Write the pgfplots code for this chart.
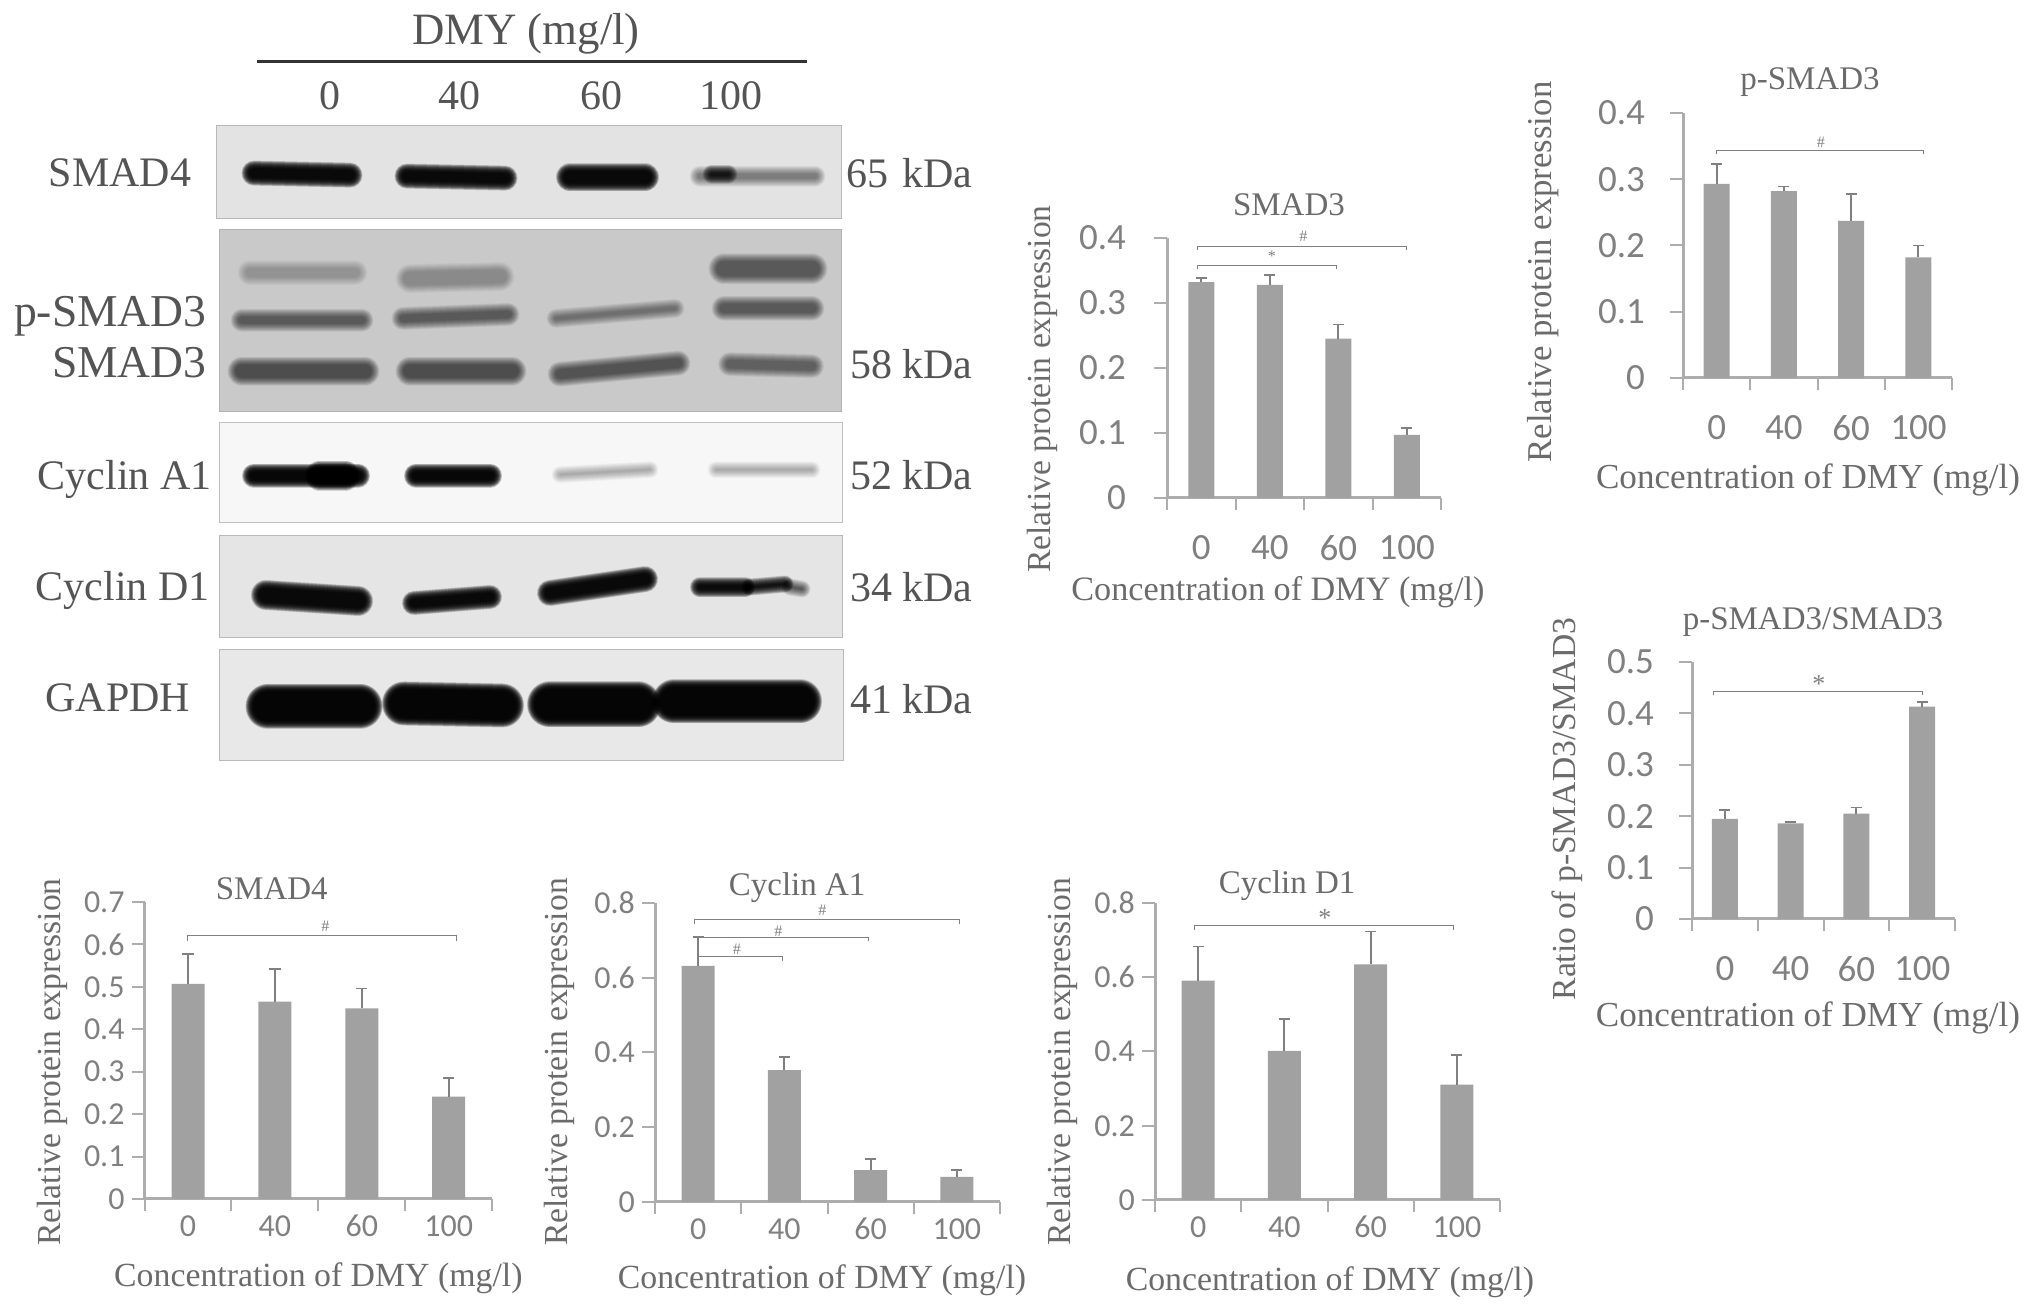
\documentclass[border=0pt]{standalone}
\usepackage{fontspec}
\setmainfont{Liberation Serif}
\newfontfamily\tickfont{Carlito}
\usepackage{pgfplots}
\pgfplotsset{compat=1.18}

\definecolor{axisg}{gray}{0.68}
\definecolor{barg}{gray}{0.63}
\definecolor{errg}{gray}{0.5}
\definecolor{txtg}{gray}{0.42}
\definecolor{blotg}{gray}{0.33}
\newcommand\fz[1]{\fontsize{#1}{#1}\selectfont}

% soft band on a blot: path, thickness in px, opacity per layer
\newcommand\band[3]{%
  \foreach \k in {11,10,...,-5}{%
    \draw[line width=(#2+\k)*0.5pt, line cap=round, line join=round, black, opacity=#3] #1;
  }%
}

\pgfplotsset{
  wb/.style={
    scale only axis, clip=false, ybar,
    axis lines=left,
    axis line style={-, draw=axisg, line width=1.5pt},
    xmin=-0.5, xmax=3.5, ymin=0,
    xtick={0,1,2,3}, xticklabels={0,40,60,100},
    minor xtick={-0.5,0.5,1.5,2.5,3.5},
    tick align=outside,
    major tick length=6.5pt, minor tick length=6pt,
    major x tick style={draw=none},
    minor x tick style={draw=axisg, line width=1pt},
    major y tick style={draw=axisg, line width=1pt},
    /pgf/number format/assume math mode=true,
    /pgf/number format/fixed,
    /pgf/number format/precision=1,
    every axis title shift=0pt,
    title style={font=\fz{16.5}, text=txtg, anchor=center, inner sep=0pt},
    xlabel style={font=\fz{16.9}, text=txtg, anchor=center, inner sep=0pt},
    ylabel style={font=\fz{16.8}, text=txtg, anchor=center, inner sep=0pt},
    xlabel={Concentration of DMY (mg/l)},
    ylabel={Relative protein expression},
  },
  small/.style={
    wb,
    tick label style={font=\tickfont\fz{16}, text=errg},
    xticklabel style={anchor=center, yshift=-7pt},
  },
  large/.style={
    wb,
    tick label style={font=\tickfont\fz{18.5}, text=errg},
    xticklabel style={anchor=center, yshift=-18.5pt},
    yticklabel style={xshift=-9pt},
  },
  bars/.style={
    fill=barg, draw=none, bar width=#1,
    error bars/.cd, y dir=plus, y explicit,
    error bar style={draw=errg, line width=0.9pt},
    error mark options={draw=errg, line width=0.9pt, mark size=2.8pt, rotate=90},
  },
}
% significance bracket in axis units: x1, x2, y, drop, symbol x, symbol y, symbol
\newcommand\bracket[7]{%
  \draw[errg, line width=0.5pt] (axis cs:#1,#3-#4) -- (axis cs:#1,#3) -- (axis cs:#2,#3) -- (axis cs:#2,#3-#4);
  \node[text=errg, font=\fz{8}, inner sep=0pt] at (axis cs:#5,#6) {#7};
}
\newcommand\bigstar[3]{\node[text=errg, font=\fz{13}, inner sep=0pt] at (axis cs:#1,#2) {#3};}

\begin{document}
\begin{tikzpicture}[x=0.5pt,y=0.5pt]
\path[use as bounding box] (0,0) rectangle (2031,1312);

% blot panels
\begin{scope}[yscale=-0.995,yshift=-659.3pt]
  \fill[gray!22!white,draw=gray!55] (216,126) rectangle (841,220);
  \fill[gray!42!white,draw=gray!60] (219,231) rectangle (841,413);
  \fill[gray!6!white,draw=gray!50] (219,425) rectangle (842,525);
  \fill[gray!20!white,draw=gray!55] (219,538) rectangle (842,641);
  \fill[gray!18!white,draw=gray!55] (219,653) rectangle (843,764);

  % SMAD4
  \band{(254,174)--(350,176)}{14}{0.16}
  \band{(407,177)--(505,179)}{14}{0.16}
  \band{(570,178)--(645,178)}{17}{0.16}
  \band{(700,177)--(815,177)}{10}{0.03}
  \band{(712,175)--(728,175)}{8}{0.09}
  % p-SMAD3 / SMAD3
  \band{(250,274)--(355,274)}{14}{0.016}
  \band{(410,280)--(500,278)}{18}{0.02}
  \band{(724,270)--(812,270)}{20}{0.042}
  \band{(724,310)--(812,310)}{14}{0.042}
  \band{(242,322)--(362,322)}{12}{0.042}
  \band{(403,320)--(508,316)}{12}{0.042}
  \band{(556,320)--(675,310)}{8}{0.03}
  \band{(242,373)--(365,373)}{18}{0.05}
  \band{(410,373)--(512,373)}{18}{0.05}
  \band{(560,376)--(678,365)}{14}{0.046}
  \band{(730,366)--(812,368)}{13}{0.038}
  % Cyclin A1
  \band{(254,478)--(358,478)}{13}{0.17}
  \band{(320,478)--(345,478)}{19}{0.14}
  \band{(416,478)--(490,478)}{13}{0.17}
  \band{(560,477)--(650,472)}{6}{0.02}
  \band{(716,472)--(812,472)}{6}{0.02}
  % Cyclin D1
  \band{(266,598)--(358,604)}{19}{0.16}
  \band{(414,606)--(490,600)}{13}{0.16}
  \band{(550,596)--(645,582)}{15}{0.16}
  \band{(700,590)--(745,590)}{9}{0.15}
  \band{(750,590)--(785,587)}{6}{0.13}
  \band{(790,590)--(802,592)}{6}{0.05}
  % GAPDH
  \band{(268,710)--(360,710)}{34}{0.18}
  \band{(404,707)--(502,709)}{33}{0.18}
  \band{(550,708)--(638,708)}{35}{0.18}
  \band{(674,705)--(800,705)}{33}{0.18}
\end{scope}

% blot labels
\begin{scope}[yscale=-1,yshift=-656pt]
  \tikzset{bl/.style={text=blotg, font=\fz{21}, inner sep=0pt}}
  \node[bl,font=\fz{22.4}] at (526,34) {DMY (mg/l)};
  \draw[black!80, line width=1.5pt] (257,62) -- (807,62);
  \node[bl] at (330,96) {0};
  \node[bl] at (459,96) {40};
  \node[bl] at (601,96) {60};
  \node[bl] at (731,96) {100};
  \node[bl] at (120,173) {SMAD4};
  \node[bl,anchor=east,font=\fz{22.8}] at (207,316) {p-SMAD3};
  \node[bl,anchor=east,font=\fz{22.8}] at (207,363) {SMAD3};
  \node[bl,anchor=east] at (212,479) {Cyclin A1};
  \node[bl,anchor=east] at (210,590) {Cyclin D1};
  \node[bl] at (118,698) {GAPDH};
  \node[bl,anchor=east] at (973,173) {65\,\,kDa};
  \node[bl,anchor=east] at (973,364) {58 kDa};
  \node[bl,anchor=east] at (973,475) {52 kDa};
  \node[bl,anchor=east] at (973,587) {34 kDa};
  \node[bl,anchor=east] at (973,699) {41 kDa};
\end{scope}

% SMAD4
\begin{axis}[small, at={(72.3pt,56.5pt)}, width=173.75pt, height=148.5pt, ymax=0.7,
    ytick={0,0.1,0.2,0.3,0.4,0.5,0.6,0.7},
    title={SMAD4}, title style={at={(axis description cs:0.366,1.043)}},
    xlabel style={at={(axis description cs:0.5,-0.266)}},
    ylabel style={at={(axis description cs:-0.265,0.461)}}]
\addplot[bars=16.5pt] coordinates {
  (0,0.507) +- (0,0.070)
  (1,0.465) +- (0,0.078)
  (2,0.449) +- (0,0.047)
  (3,0.241) +- (0,0.044)
};
\bracket{-0.01}{3.09}{0.62}{0.012}{1.58}{0.643}{\#}
\end{axis}

% Cyclin A1
\begin{axis}[small, at={(327.5pt,55pt)}, width=172.5pt, height=149.5pt, ymax=0.8,
    ytick={0,0.2,0.4,0.6,0.8},
    title={Cyclin A1}, title style={at={(axis description cs:0.412,1.05)}},
    xlabel style={at={(axis description cs:0.484,-0.261)}},
    ylabel style={at={(axis description cs:-0.277,0.468)}}]
\addplot[bars=16.5pt] coordinates {
  (0,0.632) +- (0,0.077)
  (1,0.353) +- (0,0.034)
  (2,0.085) +- (0,0.031)
  (3,0.067) +- (0,0.018)
};
\bracket{-0.04}{3.03}{0.757}{0.012}{1.44}{0.781}{\#}
\bracket{-0.01}{1.97}{0.709}{0.012}{0.93}{0.725}{\#}
\bracket{0}{0.98}{0.657}{0.012}{0.45}{0.676}{\#}
\end{axis}

% Cyclin D1
\begin{axis}[small, at={(577.5pt,56pt)}, width=172.5pt, height=148.5pt, ymax=0.8,
    ytick={0,0.2,0.4,0.6,0.8},
    title={Cyclin D1}, title style={at={(axis description cs:0.383,1.058)}},
    xlabel style={at={(axis description cs:0.507,-0.276)}},
    ylabel style={at={(axis description cs:-0.267,0.465)}}]
\addplot[bars=16.5pt] coordinates {
  (0,0.591) +- (0,0.092)
  (1,0.402) +- (0,0.085)
  (2,0.635) +- (0,0.088)
  (3,0.311) +- (0,0.079)
};
\bracket{-0.04}{2.96}{0.74}{0.012}{1.47}{0.74}{}
\bigstar{1.47}{0.76}{*}
\end{axis}

% SMAD3
\begin{axis}[large, at={(583.5pt,407pt)}, width=137pt, height=130pt, ymax=0.4,
    ytick={0,0.1,0.2,0.3,0.4},
    yticklabel style={xshift=-1.5pt},
    title={SMAD3}, title style={at={(axis description cs:0.445,1.127)}},
    xlabel style={font=\fz{17.1}, at={(axis description cs:0.405,-0.362)}},
    ylabel style={at={(axis description cs:-0.456,0.419)}}]
\addplot[bars=13pt] coordinates {
  (0,0.332) +- (0,0.006)
  (1,0.328) +- (0,0.015)
  (2,0.245) +- (0,0.022)
  (3,0.097) +- (0,0.011)
};
\bracket{-0.05}{2.99}{0.387}{0.006}{1.49}{0.402}{\#}
\bracket{-0.05}{1.98}{0.358}{0.006}{1.03}{0.372}{*}
\end{axis}

% p-SMAD3
\begin{axis}[large, at={(841.5pt,467pt)}, width=134.5pt, height=132.5pt, ymax=0.4,
    ytick={0,0.1,0.2,0.3,0.4},
    title={p-SMAD3}, title style={at={(axis description cs:0.472,1.117)}},
    xlabel style={font=\fz{17.55}, at={(axis description cs:0.465,-0.385)}},
    ylabel style={font=\fz{17.4}, at={(axis description cs:-0.52,0.4)}}]
\addplot[bars=13pt] coordinates {
  (0,0.293) +- (0,0.030)
  (1,0.282) +- (0,0.007)
  (2,0.237) +- (0,0.041)
  (3,0.182) +- (0,0.018)
};
\bracket{0}{3.07}{0.3435}{0.006}{1.55}{0.356}{\#}
\end{axis}

% p-SMAD3/SMAD3 ratio
\begin{axis}[large, at={(846pt,196.5pt)}, width=131.5pt, height=128.5pt, ymax=0.5,
    ytick={0,0.1,0.2,0.3,0.4,0.5},
    ylabel={Ratio of p-SMAD3/SMAD3},
    title={p-SMAD3/SMAD3}, title style={at={(axis description cs:0.46,1.155)}},
    xlabel style={font=\fz{17.55}, at={(axis description cs:0.441,-0.385)}},
    ylabel style={at={(axis description cs:-0.475,0.428)}}]
\addplot[bars=13pt] coordinates {
  (0,0.195) +- (0,0.017)
  (1,0.186) +- (0,0.003)
  (2,0.205) +- (0,0.012)
  (3,0.413) +- (0,0.009)
};
\bracket{-0.17}{3.0}{0.442}{0.007}{1.43}{0.442}{}
\bigstar{1.43}{0.458}{*}
\end{axis}
\end{tikzpicture}
\end{document}
